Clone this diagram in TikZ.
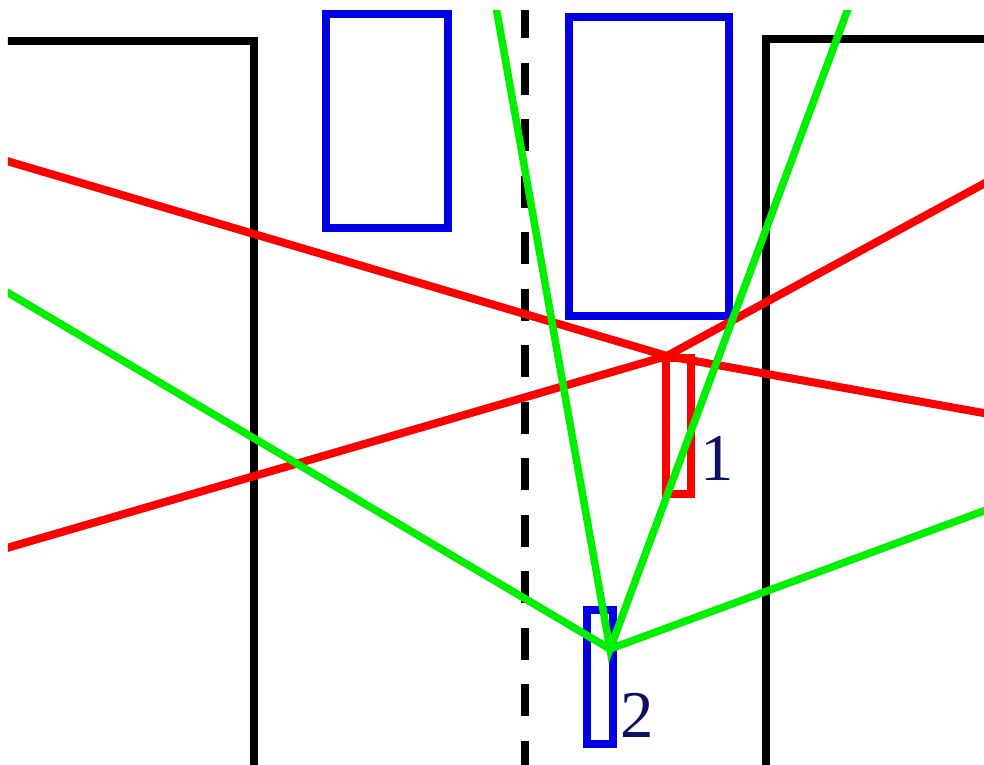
\documentclass[tikz,border=0pt]{standalone}
\usepackage{fontspec}
\setmainfont{Liberation Serif}
\usepackage{tikz}
\usetikzlibrary{positioning}

\definecolor{rayred}{RGB}{255,0,0}
\definecolor{raygreen}{RGB}{0,240,0}
\definecolor{boxblue}{RGB}{0,0,230}
\definecolor{lblnavy}{RGB}{15,15,100}

\begin{document}
\begin{tikzpicture}[x=0.01cm,y=-0.01cm,line join=miter]
  \tikzstyle{wall}=[draw=black,line width=0.085cm]
  \tikzstyle{car}=[draw=boxblue,line width=0.075cm,inner sep=0pt]
  \tikzstyle{redray}=[draw=rayred,line width=0.08cm]
  \tikzstyle{greenray}=[draw=raygreen,line width=0.075cm]
  \tikzstyle{lbl}=[text=lblnavy,inner sep=0pt,font=\fontsize{19}{20}\selectfont]

  \useasboundingbox (0,0) rectangle (984,765);
  \clip (8,11) rectangle (984,765);

  % road edges and centre line
  \draw[wall] (0,41) -- (254,41) -- (254,780);
  \draw[wall] (1000,39) -- (766,39) -- (766,780);
  \draw[wall,dash pattern=on 0.32cm off 0.245cm] (525,6) -- (525,780);

  % parked cars
  \node[car,minimum width=1.22cm,minimum height=2.14cm] (carA) at (387,121) {};
  \node[car,minimum width=1.60cm,minimum height=2.99cm] (carB) at (649,166.5) {};

  % sensors
  \node[draw=rayred,line width=0.075cm,inner sep=0pt,
        minimum width=0.25cm,minimum height=1.36cm] (s1) at (678.5,426) {};
  \node[car,minimum width=0.26cm,minimum height=1.34cm] (s2) at (600,677) {};
  \node[lbl] (n1) at (717,458) {1};
  \node[lbl] (n2) at (637,715) {2};

  \coordinate (rp) at (667,356);
  \coordinate (gp) at (610,649);

  % red rays
  \draw[redray] (0,159) -- (rp) -- (1000,416);
  \draw[redray] (0,550) -- (rp) -- (1000,175);

  % green rays
  \draw[greenray] (493,-10) -- (gp) -- (855,-10);
  \draw[greenray] (0,288) -- (gp) -- (1000,505);
\end{tikzpicture}
\end{document}
